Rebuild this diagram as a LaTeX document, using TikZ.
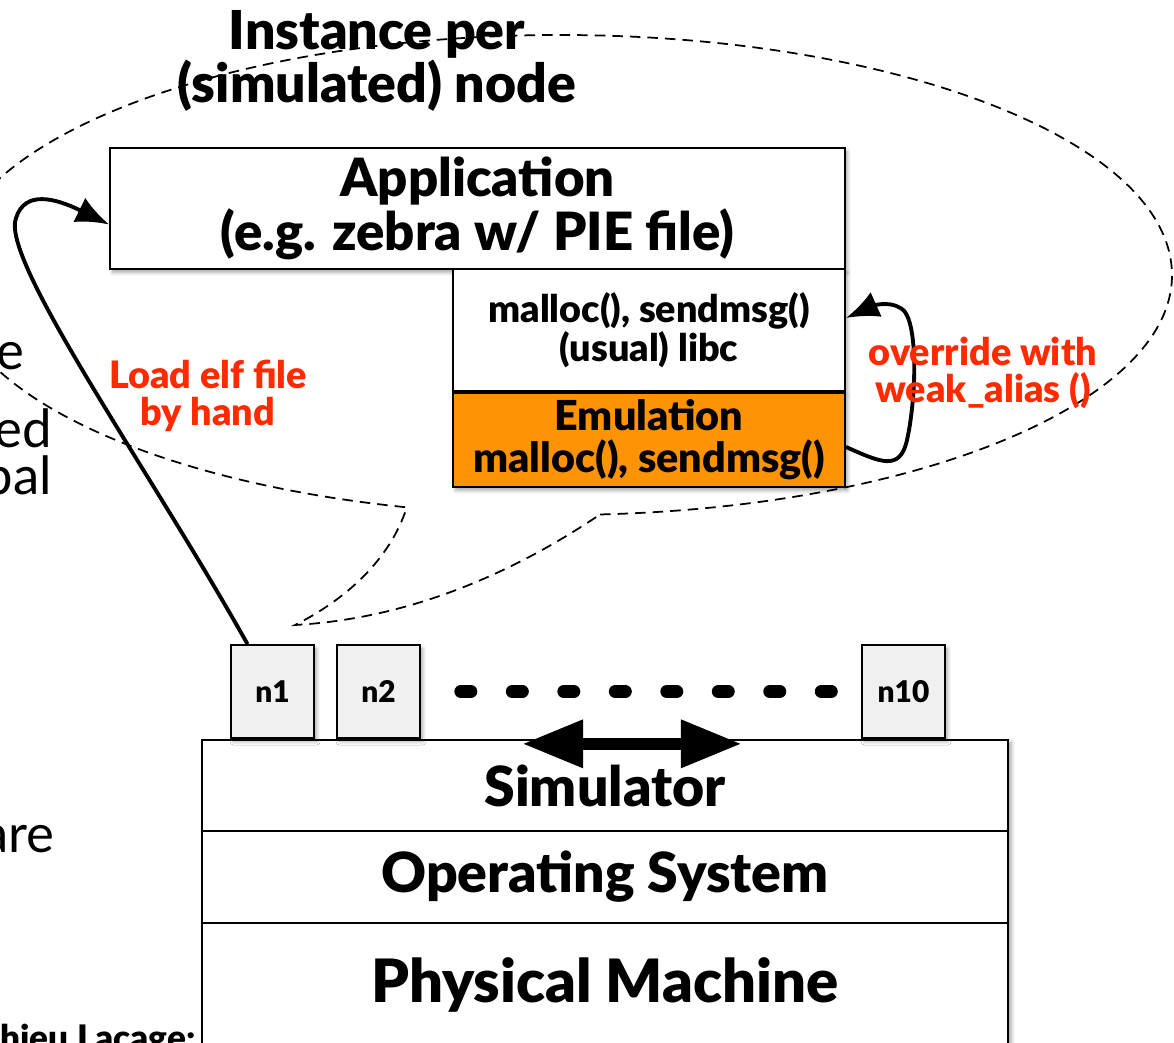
\documentclass[tikz,border=0pt]{standalone}
\usepackage{fontspec}
\setmainfont{Lato}[BoldFont={Lato Black}]
\usepackage{tikz}
\usetikzlibrary{arrows.meta, shadows.blur, calc, backgrounds}
\newcommand{\setfs}[2]{\fontsize{#1}{#2}\selectfont}
\definecolor{emuorange}{HTML}{FF9306}
\definecolor{annored}{HTML}{FF2A00}
\tikzstyle{shade} = [blur shadow={shadow xshift=1.5pt, shadow yshift=-2pt, shadow blur steps=6, shadow opacity=35}]
\tikzstyle{layer} = [draw=black, line width=1.1pt, fill=white, align=center, shade, font=\bfseries\setfs{30}{31}]
\tikzstyle{libbox} = [layer, minimum width=7.84cm, font=\bfseries\setfs{21.5}{22.5}]
\tikzstyle{stack} = [draw=black, line width=1.1pt, align=center, minimum width=16.12cm, minimum height=1.83cm, font=\bfseries\setfs{31.5}{33}]
\tikzstyle{simnode} = [draw=black, line width=1pt, fill=black!6, shade, minimum width=1.66cm, minimum height=1.86cm, font=\bfseries\setfs{17}{20}]
\tikzstyle{anno} = [text=annored, align=center, font=\bfseries\setfs{21.5}{21.5}]
\tikzstyle{slidetext} = [inner sep=0pt, font=\setfs{30}{36}]
\tikzstyle{bubble} = [line width=1pt, dash pattern=on 6pt off 4pt]
\tikzstyle{arrow} = [line width=2.2pt, -{Latex[length=0.66cm, width=0.54cm]}]
\tikzstyle{bigarrow} = [line width=0.25cm, {Triangle[length=1.22cm, width=0.9cm]}-{Triangle[length=1.22cm, width=0.9cm]}]
\tikzstyle{dotrow} = [line width=0.26cm, line cap=round, dash pattern=on 0.2cm off 0.83cm]

\begin{document}
\begin{tikzpicture}[x=0.02cm, y=0.02cm]
\useasboundingbox (0,0) rectangle (1174,-1043);
% cut-off slide text on the left
  \node (frag1) [slidetext, anchor=base east] at (25,-370) {e};
  \node (frag2) [slidetext, anchor=base east] at (52,-448) {ed};
  \node (frag3) [slidetext, anchor=base east] at (52,-495) {bal};
  \node (frag4) [slidetext, anchor=base east] at (55,-852) {are};
  \node (author) [inner sep=0pt, anchor=base east, font=\bfseries\setfs{20}{22}] at (196,-1050) {hieu Lacage:};
% instance bubble
\coordinate (ecent) at (560,-275);
\coordinate (tip) at (295,-625);
\draw[bubble] ($(ecent)+(-86.25:612 and 240)$) arc[start angle=-86.25, end angle=255.5, x radius=612, y radius=240]
  .. controls (390,-560) and (345,-600) .. (tip) .. controls (420,-618) and (525,-565) .. cycle;
  \node (title) [align=center, font=\bfseries\setfs{30.5}{30}] at (377,-61) {Instance per\\(simulated) node};
% per-node software
  \node (app) [layer, minimum width=14.7cm, minimum height=2.42cm] at (477.5,-208.5) {Application\\(e.g. zebra w/ PIE file)};
  \node (libc) [libbox, minimum height=2.44cm] at (649,-330) {malloc(), sendmsg()\\(usual) libc};
  \node (emu) [libbox, fill=emuorange, below of=libc, yshift=-1.2cm, minimum height=1.88cm, font=\bfseries\setfs{23.5}{24}] {Emulation\\malloc(), sendmsg()};
% simulated nodes
  \node (n1) [simnode] at (272.5,-691.5) {n1};
  \node (n2) [simnode, right of=n1, xshift=1.12cm] {n2};
  \node (n10) [simnode] at (903.5,-691.5) {n10};
  \draw[dotrow] ([xshift=0.8cm]n2.east) -- ([xshift=-0.5cm]n10.west);
% host stack
  \node (phys) [stack, minimum height=2.48cm, font=\bfseries\setfs{34}{36}] at (605,-985) {Physical Machine};
  \node (os) [stack, above of=phys, yshift=1.16cm] {Operating System};
  \node (sim) [stack, above of=os, yshift=0.83cm] {Simulator};
  \begin{scope}[on background layer]
    \fill[white, shade] (sim.north west) rectangle (phys.south east);
  \end{scope}
  \draw[bigarrow] ([shift={(-1.66cm,-0.1cm)}]sim.north) -- ([shift={(2.74cm,-0.1cm)}]sim.north);
% loading and overriding
  \draw[arrow] ([xshift=-0.5cm]n1.north) .. controls (150,-470) and (0,-260) .. (16,-218)
    .. controls (25,-190) and (55,-198) .. ([yshift=-0.32cm]app.west);
  \draw[arrow] ([yshift=-0.14cm]emu.east) .. controls (880,-462) and (900,-472) .. (907,-440)
    .. controls (916,-400) and (918,-330) .. (905,-312) .. controls (895,-300) and (875,-305) .. ([yshift=0.24cm]libc.east);
  \node (elf) [anno] at (208,-396) {Load elf file\\by hand};
  \node (weak) [anno] at (983,-373) {override with\\weak\_alias ()};
\end{tikzpicture}
\end{document}
